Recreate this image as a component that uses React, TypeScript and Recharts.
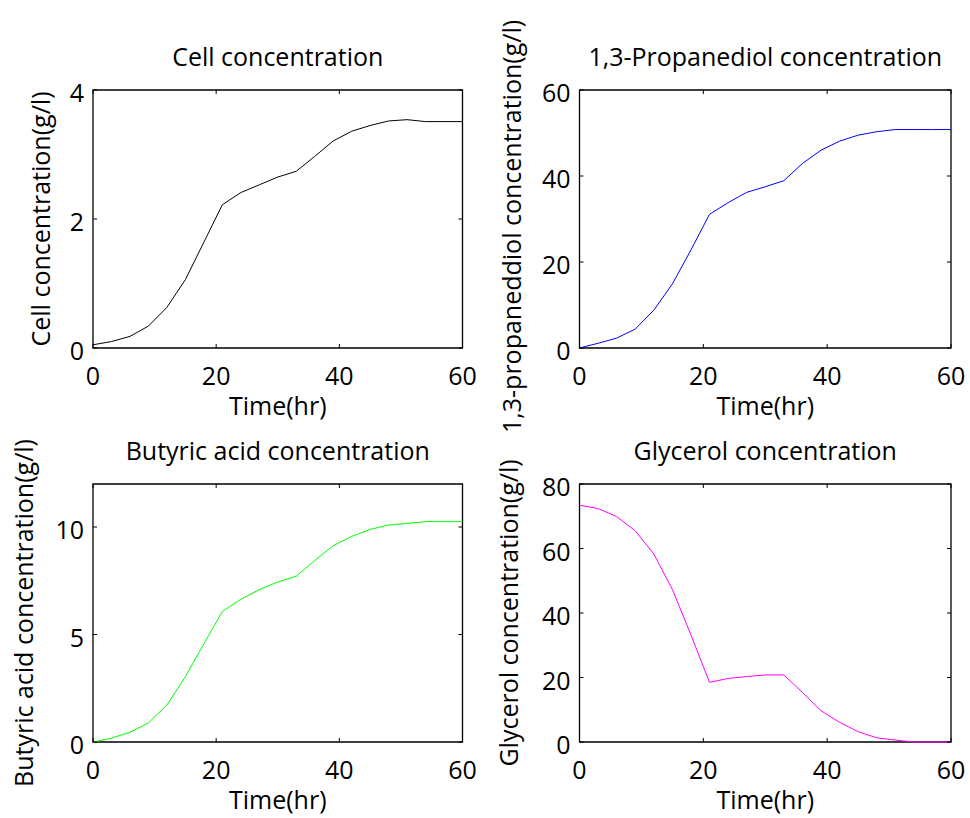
import React from 'react';
import { LineChart, Line, XAxis, YAxis, ReferenceArea } from 'recharts';

// sampling times (hr)
const hours = [0, 3, 6, 9, 12, 15, 18, 21, 24, 27, 30, 33, 36, 39, 42, 45, 48, 51, 54, 57, 60];

const cellConc = [0.05, 0.1, 0.18, 0.34, 0.63, 1.06, 1.64, 2.22, 2.41, 2.53, 2.65, 2.74, 2.97, 3.21, 3.36, 3.45, 3.52, 3.54, 3.51, 3.51, 3.51];
const pdoConc = [0, 1.1, 2.3, 4.4, 8.8, 14.9, 22.8, 31.1, 33.8, 36.2, 37.5, 38.9, 42.9, 46.0, 48.1, 49.5, 50.3, 50.8, 50.8, 50.8, 50.8];
const butyricConc = [0, 0.18, 0.45, 0.89, 1.72, 3.04, 4.56, 6.07, 6.64, 7.09, 7.44, 7.71, 8.44, 9.13, 9.56, 9.89, 10.09, 10.17, 10.25, 10.25, 10.25];
const glycerolConc = [73.4, 72.4, 69.9, 65.5, 58.3, 47.3, 33.2, 18.5, 19.7, 20.3, 20.8, 20.8, 15.4, 9.7, 6.1, 3.2, 1.3, 0.6, 0, 0, 0];

const timeTicks = [0, 20, 40, 60];
const cellTicks = [0, 2, 4];
const pdoTicks = [0, 20, 40, 60];
const butyricTicks = [0, 5, 10];
const glycerolTicks = [0, 20, 40, 60, 80];

const W = 485;
const INK = '#000';
const TICK_LEN = 4;

const textStyle = {
  fontFamily: '"Open Sans", sans-serif',
  fontSize: 25,
  fill: '#000',
};

type Plot = { left: number; right: number; top: number; bottom: number };

interface PanelProps {
  title: string;
  yLabel: string;
  values: number[];
  yTicks: number[];
  yMax: number;
  color: string;
  pos: { left: number; top: number; height: number };
  plot: Plot;
  labelX: number;
  // when set, the y label starts at this y and runs upward (clipped at the page top)
  labelStartY?: number;
}

function Panel({ title, yLabel, values, yTicks, yMax, color, pos, plot, labelX, labelStartY }: PanelProps) {
  const data = hours.map((t, i) => ({ t, v: values[i] }));
  const H = pos.height;
  const midX = (plot.left + plot.right) / 2;
  const midY = (plot.top + plot.bottom) / 2;
  const labelY = labelStartY ?? midY;

  const xTick = (props: any) => {
    const { x, y, payload } = props;
    return (
      <g>
        <line x1={x} x2={x} y1={y} y2={y - TICK_LEN} stroke={INK} />
        <line x1={x} x2={x} y1={plot.top} y2={plot.top + TICK_LEN} stroke={INK} />
        <text x={x} y={y + 37} textAnchor="middle" {...textStyle}>
          {payload.value}
        </text>
      </g>
    );
  };

  const yTick = (props: any) => {
    const { x, y, payload } = props;
    return (
      <g>
        <line x1={x} x2={x + TICK_LEN} y1={y} y2={y} stroke={INK} />
        <line x1={plot.right} x2={plot.right - TICK_LEN} y1={y} y2={y} stroke={INK} />
        <text x={x - 9} y={y + 12} textAnchor="end" {...textStyle}>
          {payload.value}
        </text>
      </g>
    );
  };

  return (
    <div style={{ position: 'absolute', left: pos.left, top: pos.top, width: W, height: H }}>
      <LineChart
        width={W}
        height={H}
        data={data}
        margin={{ top: plot.top, right: W - plot.right, bottom: 0, left: 0 }}
      >
        <XAxis
          dataKey="t"
          type="number"
          domain={[0, 60]}
          ticks={timeTicks}
          interval={0}
          height={H - plot.bottom}
          axisLine={false}
          tickLine={false}
          tickSize={0}
          tickMargin={0}
          tick={xTick}
          label={() => (
            <text x={midX} y={plot.bottom + 67} textAnchor="middle" {...textStyle}>
              Time(hr)
            </text>
          )}
        />
        <YAxis
          type="number"
          domain={[0, yMax]}
          ticks={yTicks}
          interval={0}
          width={plot.left}
          axisLine={false}
          tickLine={false}
          tickSize={0}
          tickMargin={0}
          tick={yTick}
          label={() => (
            <text
              x={labelX}
              y={labelY}
              textAnchor={labelStartY === undefined ? 'middle' : 'start'}
              transform={`rotate(-90, ${labelX}, ${labelY})`}
              {...textStyle}
            >
              {yLabel}
            </text>
          )}
        />
        <ReferenceArea
          x1={0}
          x2={60}
          y1={0}
          y2={yMax}
          fill="none"
          fillOpacity={0}
          stroke={INK}
          strokeWidth={1.3}
          strokeOpacity={1}
          ifOverflow="visible"
          label={() => (
            <text x={midX} y={plot.top - 24} textAnchor="middle" {...textStyle}>
              {title}
            </text>
          )}
        />
        <Line
          type="linear"
          dataKey="v"
          stroke={color}
          strokeWidth={1}
          dot={false}
          activeDot={false}
          isAnimationActive={false}
        />
      </LineChart>
    </div>
  );
}

export default function App() {
  const leftPlot = { left: 93, right: 462.5 };
  const rightPlot = { left: 94.5, right: 466 };
  const topPos = { top: 0, height: 440 };
  const bottomPos = { top: 400, height: 418 };
  const topRow = { top: 90, bottom: 348 };
  const bottomRow = { top: 84, bottom: 342 };

  return (
    <div
      style={{
        position: 'absolute',
        left: 0,
        top: 0,
        width: 970,
        height: 818,
        background: '#fff',
        overflow: 'hidden',
      }}
    >
      <Panel
        title="Cell concentration"
        yLabel="Cell concentration(g/l)"
        values={cellConc}
        yTicks={cellTicks}
        yMax={4}
        color="#000000"
        pos={{ left: 0, ...topPos }}
        plot={{ ...leftPlot, ...topRow }}
        labelX={50}
      />
      <Panel
        title="1,3-Propanediol concentration"
        yLabel="1,3-propaneddiol concentration(g/l)"
        values={pdoConc}
        yTicks={pdoTicks}
        yMax={60}
        color="#0000ff"
        pos={{ left: 485, ...topPos }}
        plot={{ ...rightPlot, ...topRow }}
        labelX={36}
        labelStartY={433}
      />
      <Panel
        title="Butyric acid concentration"
        yLabel="Butyric acid concentration(g/l)"
        values={butyricConc}
        yTicks={butyricTicks}
        yMax={12}
        color="#00ff00"
        pos={{ left: 0, ...bottomPos }}
        plot={{ ...leftPlot, ...bottomRow }}
        labelX={33}
      />
      <Panel
        title="Glycerol concentration"
        yLabel="Glycerol concentration(g/l)"
        values={glycerolConc}
        yTicks={glycerolTicks}
        yMax={80}
        color="#ff00ff"
        pos={{ left: 485, ...bottomPos }}
        plot={{ ...rightPlot, ...bottomRow }}
        labelX={33}
      />
    </div>
  );
}
